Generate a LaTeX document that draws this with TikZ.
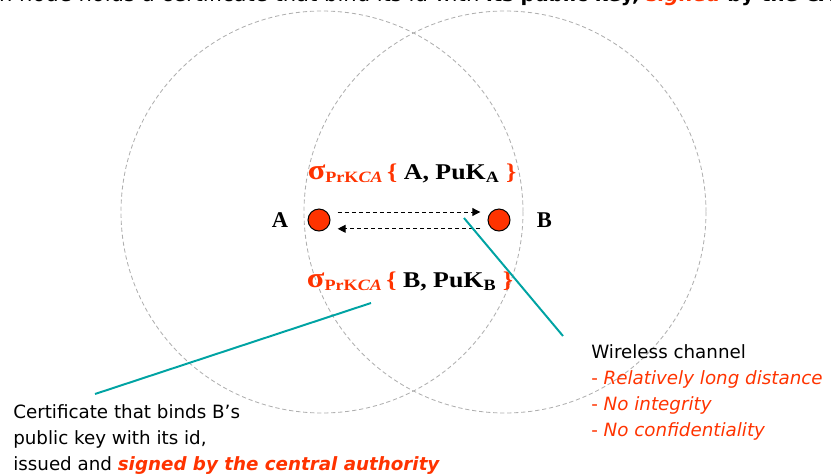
\documentclass[tikz,border=0pt]{standalone}
\usepackage{fontspec}
\setmainfont{DejaVu Sans}
\newfontfamily\timesfont{Liberation Serif}
\newfontfamily\certfont[FakeStretch=1.15]{Liberation Serif}
\usepackage{tikz}
\usetikzlibrary{arrows.meta, positioning}
\usepackage{xcolor}
\definecolor{certred}{RGB}{255,51,0}
\definecolor{linkteal}{RGB}{0,163,163}
\definecolor{rangegray}{RGB}{175,175,175}

\begin{document}
\begin{tikzpicture}[x=0.025cm, y=-0.025cm,
  rangecirc/.style={draw=rangegray, dash pattern=on 3pt off 2pt, line width=0.6pt},
  dot/.style={circle, draw, line width=0.7pt, fill=certred, minimum size=0.55cm, inner sep=0},
  peerlabel/.style={font=\timesfont\bfseries\fontsize{16}{18}\selectfont, inner sep=0},
  cert/.style={font=\certfont\bfseries\fontsize{16}{18}\selectfont, inner sep=0, anchor=base},
  msg/.style={dash pattern=on 3pt off 2pt, line width=0.7pt, -{Triangle[length=0.2cm, width=0.2cm]}, shorten <=0.18cm, shorten >=0.18cm},
  lead/.style={draw=linkteal, line width=1.4pt},
  note/.style={align=left, inner sep=0, anchor=north west, font=\fontsize{13}{18.5}\selectfont}
]
  \useasboundingbox (0,0) rectangle (831,474);
  \clip (0,0) rectangle (831,474);

  \node[anchor=base west, inner sep=0, font=\fontsize{15}{18}\selectfont] (title) at (-39,1)
    {Each node holds a certificate that bind its id with {\fontsize{14}{18}\selectfont\bfseries its public key, \textcolor{certred}{\itshape signed} by the CA}};

  \draw[rangecirc] (322,212) circle[radius=201];
  \draw[rangecirc] (505,212) circle[radius=201];

  \node[dot] (nodeA) at (319,220) {};
  \node[dot] (nodeB) at (499,220) {};
  \node[peerlabel, left=0.475cm of nodeA] (labA) {A};
  \node[peerlabel, right=0.65cm of nodeB] (labB) {B};

  \draw[msg] ([yshift=0.2cm]nodeA.east) -- ([yshift=0.2cm]nodeB.west);
  \draw[msg] ([yshift=-0.22cm]nodeB.west) -- ([yshift=-0.22cm]nodeA.east);

  \node[cert] (certA) at (412,179) {\textcolor{certred}{{\fontsize{20}{20}\selectfont σ}\textsubscript{PrK\textit{CA}}\,\{} A, PuK\textsubscript{A} \textcolor{certred}{\}}};
  \node[cert] (certB) at (410,287) {\textcolor{certred}{{\fontsize{20}{20}\selectfont σ}\textsubscript{PrK\textit{CA}}\,\{} B, PuK\textsubscript{B} \textcolor{certred}{\}}};

  \node[note] (channel) at (591,344) {Wireless channel\\
    \textcolor{certred}{- \textit{Relatively long distance}}\\
    \textcolor{certred}{- \textit{No integrity}}\\
    \textcolor{certred}{- \textit{No confidentiality}}};
  \node[note] (certnote) at (13,404) {Certificate that binds B’s\\
    public key with its id,\\
    issued and \textcolor{certred}{\bfseries\itshape signed by the central authority}};

  \coordinate (chanpt) at (464,218);
  \coordinate (certpt) at (371,303);
  \draw[lead] (chanpt) -- ([xshift=-0.7cm, yshift=0.2cm]channel.north west);
  \draw[lead] ([xshift=2.05cm, yshift=0.25cm]certnote.north west) -- (certpt);
\end{tikzpicture}
\end{document}
